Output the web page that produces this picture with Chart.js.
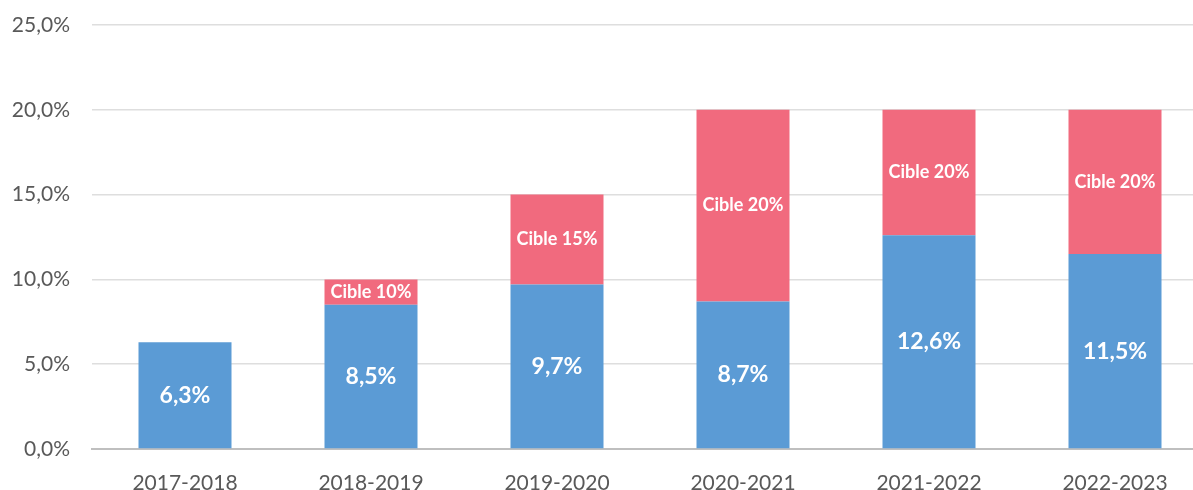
<!DOCTYPE html>
<html>
<head>
<meta charset="utf-8">
<script src="https://cdn.jsdelivr.net/npm/chart.js@4/dist/chart.umd.min.js"></script>
<style>
  html, body { margin: 0; padding: 0; background: #fff; overflow: hidden; }
  /* plot runs slightly past the right edge, as in the source image */
  #wrap { width: 1208px; height: 490px; position: relative; }
</style>
</head>
<body>
<div id="wrap"><canvas id="chart"></canvas></div>
<script>
// years, actual share and target share (percent)
const categories = ["2017-2018", "2018-2019", "2019-2020", "2020-2021", "2021-2022", "2022-2023"];
const actual = [6.3, 8.5, 9.7, 8.7, 12.6, 11.5];
const targets = [null, 10, 15, 20, 20, 20];
const yTicks = [0, 5, 10, 15, 20, 25];

const gap = targets.map((t, i) => t == null ? null : +(t - actual[i]).toFixed(1));

function pct(v) {
    return v.toFixed(1).replace(".", ",") + "%";
}

// simple inline label plugin, no external datalabels
const barLabels = {
    id: "barLabels",
    afterDatasetsDraw(chart) {
        const ctx = chart.ctx;
        ctx.save();
        ctx.fillStyle = "#ffffff";
        ctx.textAlign = "center";
        ctx.textBaseline = "middle";
        chart.getDatasetMeta(0).data.forEach((bar, i) => {
            ctx.font = "bold 23px Lato";
            const mid = (bar.y + bar.base) / 2;
            ctx.fillText(pct(actual[i]), bar.x, mid);
        });
        chart.getDatasetMeta(1).data.forEach((bar, i) => {
            if (targets[i] == null) return;
            ctx.font = "bold 18px Lato";
            const mid = (bar.y + bar.base) / 2;
            ctx.fillText("Cible " + targets[i] + "%", bar.x, mid);
        });
        ctx.restore();
    }
};

new Chart(document.getElementById("chart").getContext("2d"), {
    type: "bar",
    data: {
        labels: categories,
        datasets: [
            { label: "Réalisé", data: actual, backgroundColor: "#5b9bd5" },
            { label: "Cible", data: gap, backgroundColor: "#f16a7e" }
        ]
    },
    options: {
        responsive: true,
        maintainAspectRatio: false,
        animation: false,
        layout: { padding: { top: 25, right: 0, left: 0, bottom: 0 } },
        datasets: { bar: { barPercentage: 1, categoryPercentage: 0.5 } },
        plugins: { legend: { display: false }, tooltip: { enabled: false } },
        scales: {
            x: {
                stacked: true,
                grid: { display: false },
                border: { color: "#bfbfbf", width: 2 },
                afterFit: s => { s.height = 41; },
                ticks: { color: "#595959", font: { family: "Lato", size: 21 }, padding: 14 }
            },
            y: {
                stacked: true,
                min: 0,
                max: 25,
                afterBuildTicks: s => { s.ticks = yTicks.map(v => ({ value: v })); },
                afterFit: s => { s.width = 92; s.paddingTop = 0; s.paddingBottom = 0; },
                grid: { color: "#dedede", lineWidth: 1.5, drawTicks: false },
                border: { display: false },
                ticks: {
                    color: "#595959",
                    font: { family: "Lato", size: 21 },
                    padding: 22,
                    callback: v => pct(v)
                }
            }
        }
    },
    plugins: [barLabels]
});
</script>
</body>
</html>
